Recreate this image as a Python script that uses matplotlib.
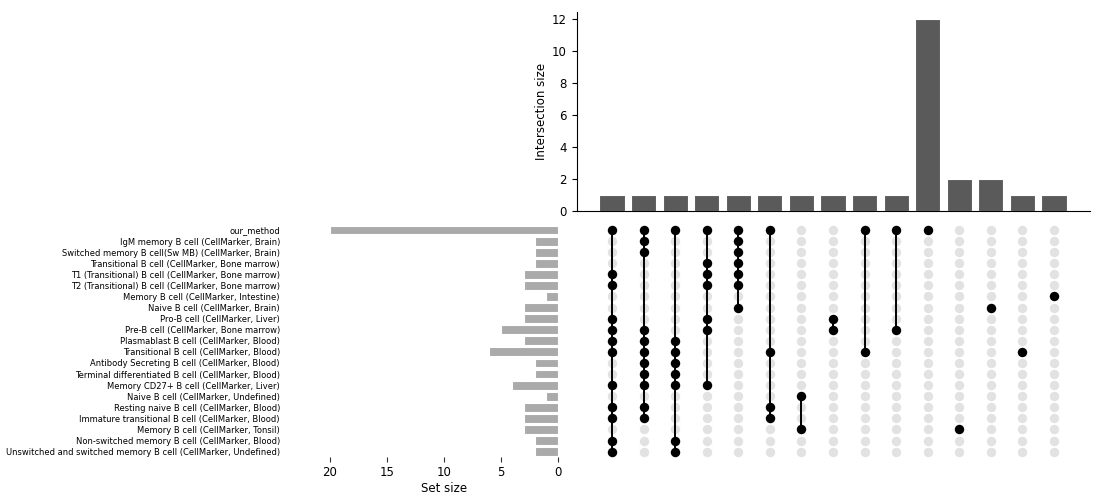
import matplotlib
matplotlib.use("Agg")
import matplotlib.pyplot as plt
import numpy as np

set_names = [
    "our_method",
    "IgM memory B cell (CellMarker, Brain)",
    "Switched memory B cell(Sw MB) (CellMarker, Brain)",
    "Transitional B cell (CellMarker, Bone marrow)",
    "T1 (Transitional) B cell (CellMarker, Bone marrow)",
    "T2 (Transitional) B cell (CellMarker, Bone marrow)",
    "Memory B cell (CellMarker, Intestine)",
    "Naive B cell (CellMarker, Brain)",
    "Pro-B cell (CellMarker, Liver)",
    "Pre-B cell (CellMarker, Bone marrow)",
    "Plasmablast B cell (CellMarker, Blood)",
    "Transitional B cell (CellMarker, Blood)",
    "Antibody Secreting B cell (CellMarker, Blood)",
    "Terminal differentiated B cell (CellMarker, Blood)",
    "Memory CD27+ B cell (CellMarker, Liver)",
    "Naive B cell (CellMarker, Undefined)",
    "Resting naive B cell (CellMarker, Blood)",
    "Immature transitional B cell (CellMarker, Blood)",
    "Memory B cell (CellMarker, Tonsil)",
    "Non-switched memory B cell (CellMarker, Blood)",
    "Unswitched and switched memory B cell (CellMarker, Undefined)",
]
set_sizes = [20, 2, 2, 2, 3, 3, 1, 3, 3, 5, 3, 6, 2, 2, 4, 1, 3, 3, 3, 2, 2]

intersection_sizes = [1, 1, 1, 1, 1, 1, 1, 1, 1, 1, 12, 2, 2, 1, 1]
# member set indices (rows) of each intersection
intersection_members = [
    [0, 4, 5, 8, 9, 10, 11, 14, 16, 17, 19, 20],
    [0, 1, 2, 9, 10, 11, 12, 13, 14, 16, 17],
    [0, 10, 11, 12, 13, 14, 19, 20],
    [0, 3, 4, 5, 8, 9, 14],
    [0, 1, 2, 3, 4, 5, 7],
    [0, 11, 16, 17],
    [15, 18],
    [8, 9],
    [0, 11],
    [0, 9],
    [0],
    [18],
    [7],
    [11],
    [6],
]

plt.rcParams["font.size"] = 8.5
plt.rcParams["axes.labelsize"] = 8.5
plt.rcParams["xtick.labelsize"] = 8.5
plt.rcParams["ytick.labelsize"] = 8.5

W, H = 1099, 497
fig = plt.figure(figsize=(W / 100, H / 100), dpi=100)

def px_axes(left, top, right, bottom):
    return fig.add_axes([left / W, 1 - bottom / H, (right - left) / W, (bottom - top) / H])

ncol = len(intersection_sizes)
nrow = len(set_names)
col_x0, col_dx = 612.0, 31.57
ax_left, ax_right = 576.5, 1090.0
xlim = ((ax_left - col_x0) / col_dx, (ax_right - col_x0) / col_dx)

# Intersection bars
row0_y, row_dy = 230.0, 11.08
y0px = 211.0
upx = 15.96
ymax = 12.5
axb = px_axes(ax_left, y0px - ymax * upx, ax_right, y0px)
xs = np.arange(ncol)
axb.bar(xs, intersection_sizes, width=0.8, color="#5a5a5a", edgecolor="white", linewidth=0.8)
axb.set_xlim(*xlim)
axb.set_ylim(0, ymax)
axb.set_yticks([0, 2, 4, 6, 8, 10, 12])
axb.set_xticks([])
axb.spines["top"].set_visible(False)
axb.spines["right"].set_visible(False)
axb.set_ylabel("Intersection size", labelpad=2.5)

# Matrix
mtop = row0_y - row_dy / 2
mbot = row0_y + row_dy * (nrow - 0.5)
axm = px_axes(ax_left, mtop, ax_right, mbot)
gx, gy = np.meshgrid(xs, np.arange(nrow))
axm.scatter(gx.ravel(), gy.ravel(), s=46, color="#e2e2e2", zorder=1, linewidths=0)
for i, mem in enumerate(intersection_members):
    if len(mem) > 1:
        axm.plot([i, i], [min(mem), max(mem)], color="black", lw=1.4, zorder=2)
    axm.scatter([i] * len(mem), mem, s=46, color="black", zorder=3, linewidths=0)
axm.set_xlim(*xlim)
axm.set_ylim(nrow - 0.5, -0.5)
axm.axis("off")

# Totals
t0, tdx = 557.7, 11.39
axt = px_axes(t0 - 20 * tdx, mtop, t0, mbot)
ys = np.arange(nrow)
axt.barh(ys, set_sizes, height=0.8, color="#aaaaaa", edgecolor="white", linewidth=0.8)
axt.set_xlim(20, 0)
axt.set_ylim(nrow - 0.5, -0.5)
axt.set_yticks(ys)
axt.set_yticklabels(set_names, fontsize=6.05)
axt.tick_params(axis="y", length=0, pad=36)
axt.set_xticks([20, 15, 10, 5, 0])
axt.tick_params(axis="x", colors="#333333", labelcolor="black", pad=3)
for s in axt.spines.values():
    s.set_visible(False)
axt.set_xlabel("Set size", labelpad=2)

fig.savefig("out.png", dpi=100)
